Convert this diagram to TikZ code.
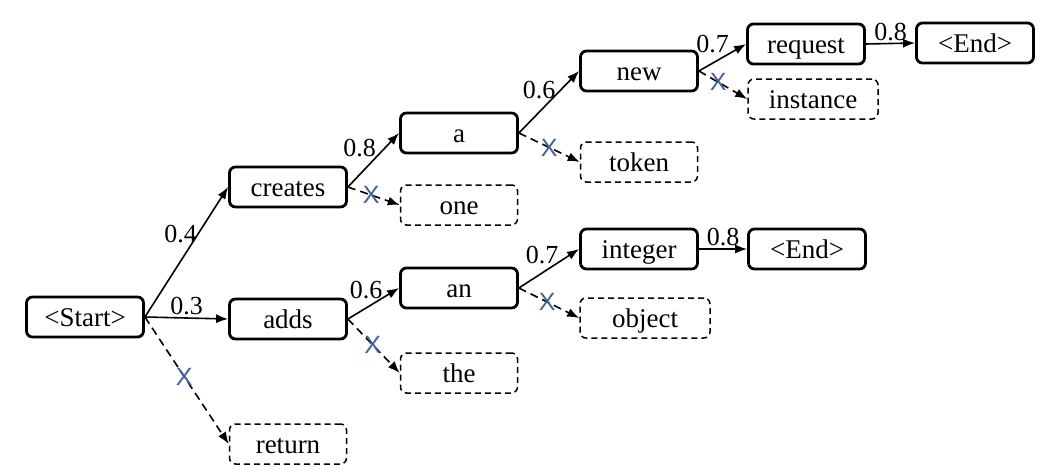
\documentclass[tikz,border=0pt]{standalone}
\usepackage{fontspec}
\setmainfont{Liberation Serif}
\setsansfont{Liberation Sans}
\usetikzlibrary{arrows.meta}
\definecolor{Cross}{HTML}{44619D}

\begin{document}
\begin{tikzpicture}[x=0.5pt,y=-0.5pt,
  tok/.style={draw,line width=1.4pt,rounded corners=3pt,minimum width=58.5pt,minimum height=20pt,inner sep=1pt,text height=10.5pt,text depth=1pt,font=\fontsize{13.5}{15}\selectfont},
  pruned/.style={tok,line width=0.75pt,dash pattern=on 3pt off 2pt},
  edge/.style={line width=0.8pt,-{Latex[length=6pt,width=4.5pt]}},
  cut/.style={edge,dash pattern=on 4pt off 2.5pt},
  prob/.style={above,font=\fontsize{13}{14}\selectfont,inner sep=1pt},
  sprob/.style={prob,xshift=-5pt},
  xmark/.style={text=Cross,font=\sffamily\fontsize{12.5}{13}\selectfont,inner sep=0pt}]
  \useasboundingbox (0,0) rectangle (1060,471);
  % token boxes
  \node[tok] (start) at (85,317) {<Start>};
  \node[tok] (creates) at (288,187) {creates};
  \node[tok] (adds) at (288,319) {adds};
  \node[pruned] (ret) at (288,444) {return};
  \node[tok] (a) at (459,133) {a};
  \node[pruned] (one) at (459,205) {one};
  \node[tok] (an) at (459,288) {an};
  \node[pruned] (the) at (459,373) {the};
  \node[tok] (new) at (639,71) {new};
  \node[pruned] (token) at (639,162) {token};
  \node[tok] (integer) at (639,249) {integer};
  \node[pruned,minimum width=65pt] (object) at (645,318) {object};
  \node[tok] (request) at (806,44) {request};
  \node[pruned,minimum width=65pt] (instance) at (813,99) {instance};
  \node[tok] (endA) at (975,43) {<End>};
  \node[tok] (endB) at (807,249) {<End>};
  % kept branches
  \draw[edge] (start.east) -- node[sprob,pos=0.55]{0.4} (creates.west);
  \draw[edge] (start.east) -- node[prob]{0.3} (adds.west);
  \draw[edge] (creates.east) -- node[sprob,xshift=-2pt]{0.8} (a.west);
  \draw[edge] (adds.east) -- node[sprob,pos=0.55]{0.6} (an.west);
  \draw[edge] (a.east) -- node[sprob]{0.6} (new.west);
  \draw[edge] (an.east) -- node[sprob,pos=0.55]{0.7} (integer.west);
  \draw[edge] (new.east) -- node[sprob,yshift=1pt]{0.7} (request.west);
  \draw[edge] (request.east) -- node[prob]{0.8} (endA.west);
  \draw[edge] (integer.east) -- node[prob]{0.8} (endB.west);
  % pruned branches
  \draw[cut] (start.east) -- node[xmark,pos=0.47]{X} (ret.west);
  \draw[cut] (creates.east) -- node[xmark,pos=0.45]{X} (one.west);
  \draw[cut] (a.east) -- node[xmark,pos=0.5]{X} (token.west);
  \draw[cut] (adds.east) -- node[xmark,pos=0.48]{X} (the.west);
  \draw[cut] (an.east) -- node[xmark,pos=0.47]{X} (object.west);
  \draw[cut] (new.east) -- node[xmark,pos=0.4]{X} (instance.west);
\end{tikzpicture}
\end{document}
